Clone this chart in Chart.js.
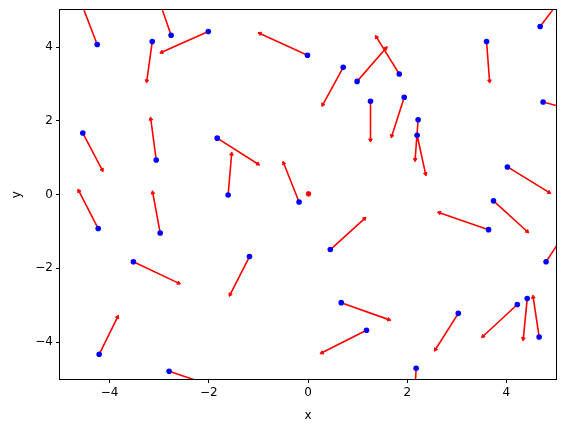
<!DOCTYPE html>
<html>
<head>
<meta charset="utf-8">
<script src="https://cdn.jsdelivr.net/npm/chart.js@4"></script>
<style>
  html, body { margin: 0; padding: 0; background: #fff; }
  #wrap { width: 565px; height: 432px; }
</style>
</head>
<body>
<div id="wrap"><canvas id="c" width="565" height="432"></canvas></div>
<script>
  "use strict";

  // arrow origins (blue points)
  const xs = [-4.25, -3.14, -2.76, -2.01, -0.01, 0.71, 0.99, 1.84, 1.26, 1.94,
    2.22, 2.20, 3.60, 4.68, 4.74, -4.54, -3.06, -1.83, -4.23, -2.98,
    -1.61, -0.18, 4.02, 3.74, 3.64, 4.80, -3.52, -1.18, 0.45, -4.21,
    -2.80, 0.67, 1.18, 3.03, 4.22, 4.42, 4.66, 2.18];
  const ys = [4.07, 4.15, 4.32, 4.42, 3.78, 3.45, 3.07, 3.27, 2.53, 2.64,
    2.03, 1.61, 4.15, 4.56, 2.51, 1.67, 0.94, 1.53, -0.92, -1.04,
    -0.01, -0.20, 0.75, -0.17, -0.95, -1.82, -1.82, -1.68, -1.49, -4.33,
    -4.79, -2.93, -3.68, -3.22, -2.98, -2.82, -3.86, -4.71];
  // arrow components
  const us = [-0.38, -0.11, -0.25, -0.94, -0.96, -0.41, 0.58, -0.46, 0.00, -0.25,
    -0.06, 0.17, 0.06, 0.42, 0.86, 0.39, -0.11, 0.82, -0.39, -0.15,
    0.07, -0.31, 0.84, 0.68, -0.99, 0.40, 0.91, -0.39, 0.69, 0.37,
    0.90, 0.96, -0.90, -0.46, -0.69, -0.08, -0.12, -0.03];
  const vs = [1.33, -1.07, 0.98, -0.56, 0.59, -1.01, 0.90, 1.00, -1.05, -1.05,
    -1.08, -1.05, -1.07, 0.74, -0.31, -1.00, 1.11, -0.70, 1.02, 1.09,
    1.11, 1.05, -0.69, -0.83, 0.46, 0.82, -0.58, -1.03, 0.84, 1.01,
    -0.41, -0.46, -0.61, -0.98, -0.86, -1.09, 1.08, -0.79];
  // zero-length arrow near the origin
  const stillX = [0.01];
  const stillY = [0.02];

  const tickVals = [-4, -2, 0, 2, 4];

  const points = xs.map((x, i) => ({ x: x, y: ys[i] }));
  const shafts = [];
  xs.forEach((x, i) => {
    shafts.push({ x: x, y: ys[i] });
    shafts.push({ x: x + us[i], y: ys[i] + vs[i] });
    shafts.push({ x: null, y: null });
  });
  const still = stillX.map((x, i) => ({ x: x, y: stillY[i] }));

  function headRotation(ctx) {
    const i = Math.floor(ctx.dataIndex / 3);
    const sx = ctx.chart.scales.x, sy = ctx.chart.scales.y;
    const dx = sx.getPixelForValue(xs[i] + us[i]) - sx.getPixelForValue(xs[i]);
    const dy = sy.getPixelForValue(ys[i] + vs[i]) - sy.getPixelForValue(ys[i]);
    return Math.atan2(dx, -dy) * 180 / Math.PI;
  }

  const frame = {
    id: "frame",
    afterDraw(chart) {
      const a = chart.chartArea, c = chart.ctx;
      c.save();
      c.strokeStyle = "#000";
      c.lineWidth = 1;
      c.strokeRect(Math.round(a.left) - 0.5, Math.round(a.top) - 0.5,
        Math.round(a.right - a.left) + 1, Math.round(a.bottom - a.top) + 1);
      c.restore();
    }
  };

  const minus = (v) => String(v).replace("-", "\u2212");
  const font = { family: "DejaVu Sans", size: 12 };

  new Chart(document.getElementById("c"), {
    type: "scatter",
    data: {
      datasets: [
        {
          label: "points",
          data: points,
          pointRadius: 2.8,
          pointHoverRadius: 2.8,
          backgroundColor: "#0000ff",
          borderColor: "#0000ff",
          borderWidth: 0
        },
        {
          label: "arrows",
          data: shafts,
          showLine: true,
          spanGaps: false,
          borderColor: "#ff0000",
          borderWidth: 1.6,
          backgroundColor: "#ff0000",
          pointStyle: "triangle",
          pointRadius: (ctx) => (ctx.dataIndex % 3 === 1 ? 2.1 : 0),
          pointHoverRadius: (ctx) => (ctx.dataIndex % 3 === 1 ? 2.1 : 0),
          pointRotation: headRotation,
          pointBorderWidth: 1,
          pointBorderColor: "#ff0000",
          pointBackgroundColor: "#ff0000"
        },
        {
          label: "still",
          data: still,
          pointRadius: 2.3,
          backgroundColor: "#ff0000",
          borderColor: "#ff0000"
        }
      ]
    },
    options: {
      responsive: false,
      animation: false,
      events: [],
      layout: { padding: { top: 9, right: 9, left: 0, bottom: 0 } },
      plugins: { legend: { display: false }, tooltip: { enabled: false } },
      scales: {
        x: {
          type: "linear",
          min: -5,
          max: 5,
          afterBuildTicks: (s) => { s.ticks = tickVals.map((v) => ({ value: v })); },
          afterFit: (s) => { s.height = 53; },
          grid: { drawOnChartArea: false, drawTicks: true, tickLength: 4, color: "#000" },
          border: { display: false },
          ticks: { color: "#000", font: font, padding: 3, maxRotation: 0, callback: minus },
          title: { display: true, text: "x", color: "#000", font: font, padding: { top: 2, bottom: 9 } }
        },
        y: {
          type: "linear",
          min: -5,
          max: 5,
          afterBuildTicks: (s) => { s.ticks = tickVals.map((v) => ({ value: v })); },
          afterFit: (s) => { s.width = 60; },
          grid: { drawOnChartArea: false, drawTicks: true, tickLength: 4, color: "#000" },
          border: { display: false },
          ticks: { color: "#000", font: font, padding: 3, callback: minus },
          title: { display: true, text: "y", color: "#000", font: font, padding: { top: 10, bottom: 4 } }
        }
      }
    },
    plugins: [frame]
  });
</script>
</body>
</html>
